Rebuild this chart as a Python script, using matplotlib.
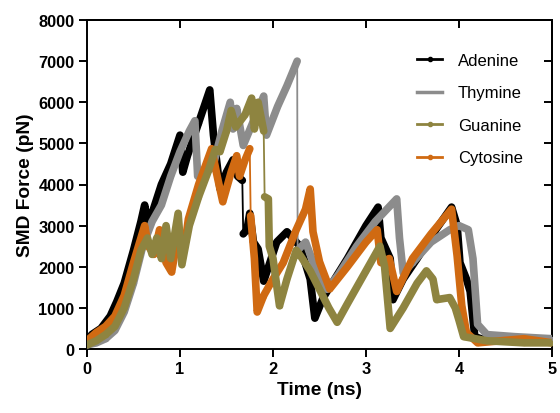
import numpy as np
import matplotlib
matplotlib.use("Agg")
import matplotlib.pyplot as plt
from matplotlib.lines import Line2D

plt.rcParams['font.family'] = ['Liberation Sans', 'DejaVu Sans']

# ---- data ----
ade_t = [0.00, 0.05, 0.15, 0.25, 0.32, 0.40, 0.50, 0.58, 0.62, 0.65, 0.70, 0.80, 0.90, 1.00, 1.03, 1.08, 1.20, 1.32,
         1.36, 1.43, 1.50, 1.57, 1.62, 1.67, 1.68, 1.72, 1.75, 1.79, 1.84, 1.90, 2.04, 2.15, 2.29, 2.40, 2.45, 2.54,
         2.80, 3.00, 3.13, 3.16, 3.26, 3.29, 3.40, 3.55, 3.75, 3.92, 3.98, 4.01, 4.08, 4.12, 4.14, 4.17, 4.30, 4.50,
         4.80, 5.00]
ade_f = [150, 350, 500, 800, 1150, 1600, 2400, 3100, 3500, 3100, 3300, 4000, 4500, 5200, 4300, 4700, 5500, 6300,
         5200, 3900, 4300, 4600, 4200, 4100, 2800, 2900, 3300, 2600, 2430, 1650, 2600, 2850, 2500, 1700, 750, 1250,
         2200, 3000, 3450, 2700, 2200, 1200, 1700, 2200, 2900, 3450, 3000, 2100, 1700, 1400, 950, 300, 200, 250,
         250, 200]
ade_jumps = [23]

thy_t = [0.00, 0.10, 0.20, 0.30, 0.40, 0.50, 0.60, 0.70, 0.80, 0.90, 1.00, 1.10, 1.16, 1.19, 1.25, 1.35, 1.45, 1.54,
         1.57, 1.61, 1.68, 1.80, 1.90, 1.93, 2.05, 2.15, 2.26, 2.265, 2.35, 2.45, 2.58, 2.70, 2.90, 3.10, 3.33, 3.36,
         3.40, 3.50, 3.70, 3.90, 4.00, 4.10, 4.15, 4.20, 4.30, 4.60, 5.00]
thy_f = [100, 150, 250, 450, 900, 1600, 2500, 3100, 3500, 4200, 4800, 5300, 5550, 4200, 4300, 4400, 5300, 6000,
         5350, 5850, 4950, 5600, 6150, 5200, 5900, 6400, 7000, 2400, 2600, 2000, 1450, 1800, 2500, 3100, 3650, 2700,
         1850, 2100, 2600, 2900, 3000, 2900, 2200, 600, 350, 300, 250]
thy_jumps = [26]

gua_t = [0.00, 0.10, 0.20, 0.30, 0.40, 0.50, 0.58, 0.65, 0.70, 0.75, 0.80, 0.85, 0.90, 0.98, 1.02, 1.10, 1.20, 1.30,
         1.38, 1.43, 1.50, 1.55, 1.60, 1.70, 1.77, 1.80, 1.84, 1.90, 1.91, 1.95, 1.96, 2.00, 2.07, 2.15, 2.25, 2.30,
         2.40, 2.50, 2.60, 2.69, 2.80, 3.00, 3.15, 3.20, 3.26, 3.40, 3.55, 3.65, 3.72, 3.76, 3.90, 3.96, 4.00, 4.05,
         4.30, 4.70, 5.00]
gua_f = [100, 200, 350, 550, 1000, 1700, 2400, 2700, 2300, 2700, 2200, 3000, 2200, 3300, 2050, 3000, 3700, 4300,
         4850, 4800, 5300, 5800, 5400, 5700, 6100, 5350, 6000, 5300, 3700, 3650, 2500, 2200, 1050, 1700, 2400, 2250,
         1900, 1450, 1000, 650, 1100, 1900, 2500, 2000, 500, 1000, 1600, 1900, 1700, 1200, 1250, 1000, 700, 300,
         200, 150, 150]
gua_jumps = [27]

cyt_t = [0.00, 0.10, 0.20, 0.30, 0.40, 0.50, 0.58, 0.62, 0.66, 0.72, 0.78, 0.85, 0.91, 0.98, 1.05, 1.09, 1.20, 1.34,
         1.40, 1.46, 1.55, 1.61, 1.64, 1.70, 1.75, 1.76, 1.80, 1.83, 1.90, 2.00, 2.11, 2.25, 2.35, 2.40, 2.43, 2.50,
         2.61, 2.80, 3.00, 3.12, 3.16, 3.25, 3.33, 3.50, 3.70, 3.92, 3.98, 4.03, 4.08, 4.20, 4.70, 5.00]
cyt_f = [200, 400, 550, 800, 1300, 2100, 2700, 3000, 2500, 2300, 2900, 2100, 1870, 2800, 2500, 3160, 4000, 4870,
         4200, 3580, 4300, 4700, 4200, 4600, 4870, 3240, 2200, 900, 1300, 1700, 2100, 2900, 3400, 3890, 2850, 2120,
         1460, 2000, 2600, 2900, 2100, 2200, 1400, 2200, 2800, 3400, 2260, 1050, 400, 150, 250, 150]
cyt_jumps = [24]

names = ["Adenine", "Thymine", "Guanine", "Cytosine"]
colors = ["#000000", "#8c8c8c", "#8e8440", "#d06a12"]
series = [(ade_t, ade_f, ade_jumps), (thy_t, thy_f, thy_jumps), (gua_t, gua_f, gua_jumps), (cyt_t, cyt_f, cyt_jumps)]

fig = plt.figure(figsize=(5.6, 4.14), dpi=100)
ax = fig.add_axes([87/560, 1-350/414, 465/560, 329/414])

draw_order = [0, 1, 3, 2]
for z, i in enumerate(draw_order):
    t, f, jumps = series[i]
    t = np.array(t, float); f = np.array(f, float)
    # thin line with markers through all points
    ax.plot(t, f, color=colors[i], lw=1.3, marker='o', ms=2.8, zorder=2 + z)
    # thick band except across fast jumps
    tt, ff = [], []
    for k in range(len(t)):
        tt.append(t[k]); ff.append(f[k])
        if k in jumps:
            tt.append(np.nan); ff.append(np.nan)
    ax.plot(tt, ff, color=colors[i], lw=5.5, solid_joinstyle='round',
            solid_capstyle='round', zorder=2 + z)

ax.set_xlim(0, 5)
ax.set_ylim(0, 8000)
ax.set_xticks([0, 1, 2, 3, 4, 5])
ax.set_yticks(np.arange(0, 8001, 1000))

for s in ax.spines.values():
    s.set_linewidth(1.4)
ax.tick_params(axis='both', which='major', direction='out', length=6, width=1.4,
               labelsize=11.8, pad=3)
for lab in ax.get_xticklabels() + ax.get_yticklabels():
    lab.set_fontweight('bold')

# inward ticks on top/right
axt = ax.secondary_xaxis('top')
axt.set_xticks([1, 2, 3, 4])
axt.tick_params(direction='in', length=6, width=1.4, labeltop=False)
axr = ax.secondary_yaxis('right')
axr.set_yticks(np.arange(1000, 8000, 1000))
axr.tick_params(direction='in', length=6, width=1.4, labelright=False)
axt.spines['top'].set_linewidth(1.4)
axr.spines['right'].set_linewidth(1.4)

ax.set_xlabel("Time (ns)", fontsize=13.8, fontweight='bold', labelpad=3)
ax.set_ylabel("SMD Force (pN)", fontsize=13.8, fontweight='bold', labelpad=3)

handles = [Line2D([0], [0], color=c, lw=2, marker='o', ms=3) for c in colors]
handles[1] = Line2D([0], [0], color=colors[1], lw=2.5)
leg = ax.legend(handles, names, loc='upper left', bbox_to_anchor=(0.71, 0.90),
                frameon=False, fontsize=12, handlelength=1.5, handletextpad=0.95,
                labelspacing=1.05, borderpad=0, borderaxespad=0)

fig.savefig("out.png", dpi=100)
